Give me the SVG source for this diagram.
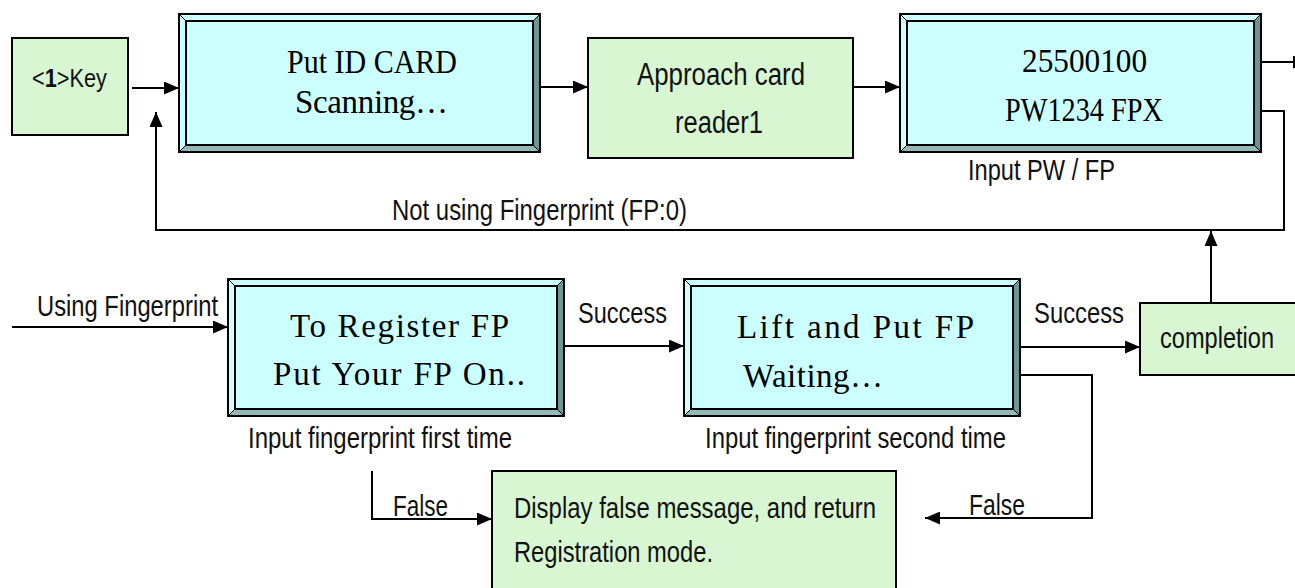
<svg xmlns="http://www.w3.org/2000/svg" width="1295" height="588" viewBox="0 0 1295 588">
<style>
  .bg{fill:#ffffff}
  .green{fill:#D8F6D2;stroke:#000;stroke-width:2}
  .face{fill:#CCFFFF;stroke:#000;stroke-width:2}
  .outer{fill:none;stroke:#000;stroke-width:2}
  .lt{fill:#CCFFFF}
  .dk{fill:#6B9696}
  .md{fill:#93B8B8}
  .diag{stroke:#000;stroke-width:1;fill:none}
  .wire{fill:none;stroke:#000;stroke-width:2}
  .lbl{font-family:"Liberation Sans Narrow","Liberation Sans",Arial,sans-serif;font-size:29px;fill:#111}
  .lcd{font-family:"Liberation Serif","Times New Roman",serif;font-size:33px;fill:#000}
</style>
<defs>
  <marker id="ah" markerUnits="userSpaceOnUse" markerWidth="15" markerHeight="13" refX="15" refY="6.5" orient="auto">
    <path d="M0,0 L15,6.5 L0,13 z" fill="#000"/>
  </marker>
</defs>
<rect class="bg" x="0" y="0" width="1295" height="588"/>

<!-- connectors -->
<g id="connectors">
  <line class="wire" x1="132" y1="88" x2="179" y2="88" marker-end="url(#ah)"/>
  <line class="wire" x1="540" y1="87" x2="588" y2="87" marker-end="url(#ah)"/>
  <line class="wire" x1="853" y1="87" x2="900" y2="87" marker-end="url(#ah)"/>
  <line class="wire" x1="1261" y1="62" x2="1308" y2="62" marker-end="url(#ah)"/>
  <polyline class="wire" points="1261,111 1284,111 1284,230 156,230 156,112" marker-end="url(#ah)"/>
  <line class="wire" x1="1211" y1="303" x2="1211" y2="231" marker-end="url(#ah)"/>
  <line class="wire" x1="12" y1="327" x2="228" y2="327" marker-end="url(#ah)"/>
  <line class="wire" x1="564" y1="346" x2="684" y2="346" marker-end="url(#ah)"/>
  <line class="wire" x1="1020" y1="347" x2="1140" y2="347" marker-end="url(#ah)"/>
  <polyline class="wire" points="1020,375 1092,375 1092,518 925,518" marker-end="url(#ah)"/>
  <polyline class="wire" points="372,471 372,519 492,519" marker-end="url(#ah)"/>
  <text class="lbl" x="392" y="220" textLength="295" lengthAdjust="spacingAndGlyphs">Not using Fingerprint (FP:0)</text>
  <text class="lbl" x="37" y="316" textLength="181" lengthAdjust="spacingAndGlyphs">Using Fingerprint</text>
  <text class="lbl" x="578" y="323" textLength="89" lengthAdjust="spacingAndGlyphs">Success</text>
  <text class="lbl" x="1034" y="323" textLength="90" lengthAdjust="spacingAndGlyphs">Success</text>
  <text class="lbl" x="393" y="516" textLength="55" lengthAdjust="spacingAndGlyphs">False</text>
  <text class="lbl" x="969" y="515" textLength="56" lengthAdjust="spacingAndGlyphs">False</text>
</g>

<!-- Key -->
<g id="key">
  <rect class="green" x="12" y="38" width="116" height="97"/>
  <text class="lbl" x="32" y="87" style="font-size:25px" textLength="75" lengthAdjust="spacingAndGlyphs">&lt;<tspan font-weight="bold">1</tspan>&gt;Key</text>
</g>

<!-- LCD1 -->
<g id="lcd-put-id-card">
  <path class="lt" d="M179,14 L540,14 L533,21 L186,21 Z M179,14 L186,21 L186,145 L179,152 Z"/>
  <path class="dk" d="M540,14 L540,152 L533,145 L533,21 Z"/>
  <path class="md" d="M179,152 L540,152 L533,145 L186,145 Z"/>
  <path class="diag" d="M179,14 L186,21 M540,14 L533,21 M540,152 L533,145 M179,152 L186,145"/>
  <rect class="face" x="186" y="21" width="347" height="124"/>
  <rect class="outer" x="179" y="14" width="361" height="138"/>
  <text class="lcd" x="287" y="73" textLength="170" lengthAdjust="spacingAndGlyphs">Put ID CARD</text>
  <text class="lcd" x="295" y="113" textLength="153" lengthAdjust="spacing">Scanning…</text>
</g>

<!-- Approach card reader -->
<g id="approach">
  <rect class="green" x="588" y="38" width="265" height="120"/>
  <text class="lbl" x="637" y="85" style="font-size:31px" textLength="168" lengthAdjust="spacingAndGlyphs">Approach card</text>
  <text class="lbl" x="675" y="133" style="font-size:31px" textLength="88" lengthAdjust="spacingAndGlyphs">reader1</text>
</g>

<!-- LCD3 -->
<g id="lcd-pw">
  <path class="lt" d="M900,14 L1261,14 L1254,21 L907,21 Z M900,14 L907,21 L907,145 L900,152 Z"/>
  <path class="dk" d="M1261,14 L1261,152 L1254,145 L1254,21 Z"/>
  <path class="md" d="M900,152 L1261,152 L1254,145 L907,145 Z"/>
  <path class="diag" d="M900,14 L907,21 M1261,14 L1254,21 M1261,152 L1254,145 M900,152 L907,145"/>
  <rect class="face" x="907" y="21" width="347" height="124"/>
  <rect class="outer" x="900" y="14" width="361" height="138"/>
  <text class="lcd" x="1022" y="72" textLength="125" lengthAdjust="spacingAndGlyphs">25500100</text>
  <text class="lcd" x="1005" y="121" textLength="158" lengthAdjust="spacingAndGlyphs">PW1234 FPX</text>
  <text class="lbl" x="968" y="180" textLength="147" lengthAdjust="spacingAndGlyphs">Input PW / FP</text>
</g>

<!-- LCD4 -->
<g id="lcd-register">
  <path class="lt" d="M228,279 L564,279 L557,286 L235,286 Z M228,279 L235,286 L235,409 L228,416 Z"/>
  <path class="dk" d="M564,279 L564,416 L557,409 L557,286 Z"/>
  <path class="md" d="M228,416 L564,416 L557,409 L235,409 Z"/>
  <path class="diag" d="M228,279 L235,286 M564,279 L557,286 M564,416 L557,409 M228,416 L235,409"/>
  <rect class="face" x="235" y="286" width="322" height="123"/>
  <rect class="outer" x="228" y="279" width="336" height="137"/>
  <text class="lcd" x="290" y="337" textLength="219" lengthAdjust="spacing">To Register FP</text>
  <text class="lcd" x="273" y="385" textLength="252" lengthAdjust="spacing">Put Your FP On..</text>
  <text class="lbl" x="248" y="448" textLength="264" lengthAdjust="spacingAndGlyphs">Input fingerprint first time</text>
</g>

<!-- LCD5 -->
<g id="lcd-lift">
  <path class="lt" d="M684,279 L1020,279 L1013,286 L691,286 Z M684,279 L691,286 L691,409 L684,416 Z"/>
  <path class="dk" d="M1020,279 L1020,416 L1013,409 L1013,286 Z"/>
  <path class="md" d="M684,416 L1020,416 L1013,409 L691,409 Z"/>
  <path class="diag" d="M684,279 L691,286 M1020,279 L1013,286 M1020,416 L1013,409 M684,416 L691,409"/>
  <rect class="face" x="691" y="286" width="322" height="123"/>
  <rect class="outer" x="684" y="279" width="336" height="137"/>
  <text class="lcd" x="737" y="338" textLength="237" lengthAdjust="spacing">Lift and Put FP</text>
  <text class="lcd" x="743" y="387" textLength="140" lengthAdjust="spacing">Waiting…</text>
  <text class="lbl" x="705" y="448" textLength="301" lengthAdjust="spacingAndGlyphs">Input fingerprint second time</text>
</g>

<!-- completion -->
<g id="completion">
  <rect class="green" x="1140" y="303" width="156" height="72"/>
  <text class="lbl" x="1160" y="348" textLength="114" lengthAdjust="spacingAndGlyphs">completion</text>
</g>

<!-- false message -->
<g id="false-message">
  <rect class="green" x="492" y="471" width="404" height="125"/>
  <text class="lbl" x="514" y="518" textLength="362" lengthAdjust="spacingAndGlyphs">Display false message, and return</text>
  <text class="lbl" x="514" y="562" textLength="199" lengthAdjust="spacingAndGlyphs">Registration mode.</text>
</g>
</svg>
